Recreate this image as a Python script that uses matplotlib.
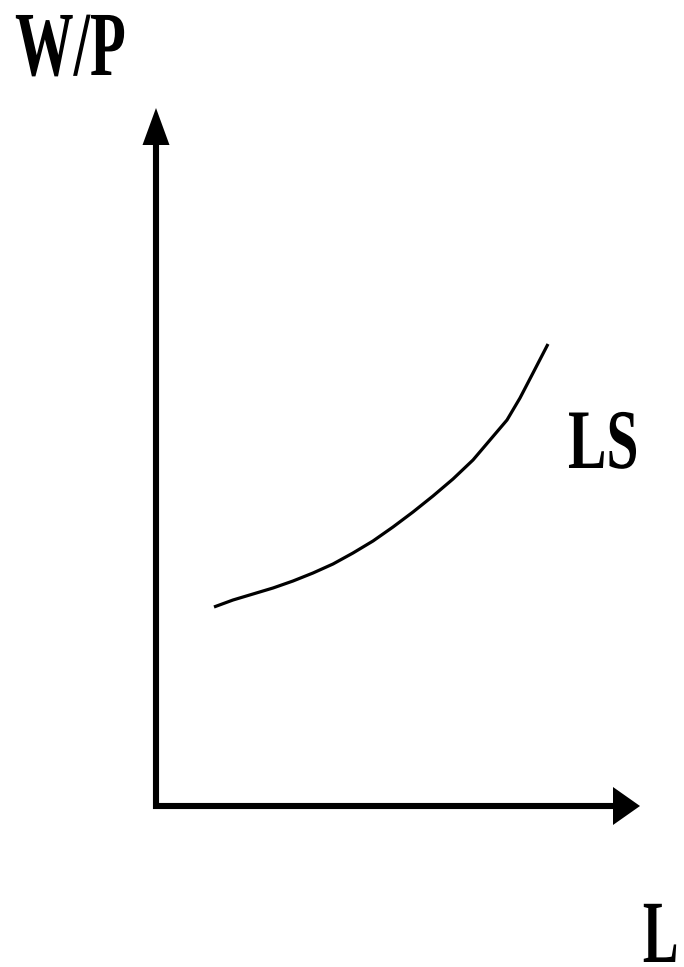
"""Labour supply (LS) curve sketch: real wage W/P against labour L."""

import matplotlib

matplotlib.use("Agg")
import matplotlib.pyplot as plt
from matplotlib.patheffects import AbstractPathEffect
from matplotlib.transforms import Affine2D


ls_labour = [58, 77, 97, 117, 137, 157, 177, 197, 217, 237,
             257, 277, 297, 317, 334, 351, 364, 377, 392]
ls_wage = [199, 206, 212, 218, 225, 233, 242, 253, 265, 279,
           294, 310, 327, 346, 366, 386, 408, 433, 462]

X_LABEL = "L"
Y_LABEL = "W/P"
CURVE_LABEL = "LS"


class Condensed(AbstractPathEffect):
    """Squeeze text horizontally, the source font is a narrow one."""

    def __init__(self, sx=0.65, anchor="left"):
        super().__init__()
        self.sx = sx
        self.anchor = anchor

    def draw_path(self, renderer, gc, tpath, affine, rgbFace=None):
        px = tpath.get_extents().x1 if self.anchor == "right" else 0
        x0, _ = affine.transform((px, 0))
        squeeze = Affine2D().translate(-x0, 0).scale(self.sx, 1).translate(x0, 0)
        renderer.draw_path(gc, tpath, affine + squeeze, rgbFace)


def main() -> None:
    fig = plt.figure(figsize=(6.84, 9.67), dpi=100)
    ax = fig.add_axes([0, 0, 1, 1])
    ax.set_xlim(-156, 528)
    ax.set_ylim(-161, 806)
    ax.axis("off")

    # axes with arrow heads
    ax.plot([0, 0, 457], [661, 0, 0], color="black", lw=4.4,
            solid_joinstyle="miter", solid_capstyle="butt")
    ax.fill([-13.5, 13.5, 0], [661, 661, 698], color="black", lw=0)
    ax.fill([457, 457, 484], [19, -19, 0], color="black", lw=0)

    ax.plot(ls_labour, ls_wage, color="black", lw=2.3, solid_capstyle="butt",
            solid_joinstyle="round")

    font = dict(family=["Liberation Serif", "DejaVu Serif"], weight="bold",
                color="black", va="baseline")
    ax.text(-141, 731, Y_LABEL, fontsize=66, ha="left",
            path_effects=[Condensed(0.64)], **font)
    ax.text(412, 338, CURVE_LABEL, fontsize=61, ha="left",
            path_effects=[Condensed(0.68)], **font)
    ax.text(524, -156, X_LABEL, fontsize=64, ha="right",
            path_effects=[Condensed(0.6, anchor="right")], **font)

    fig.savefig("out.png", dpi=100)


if __name__ == "__main__":
    main()
